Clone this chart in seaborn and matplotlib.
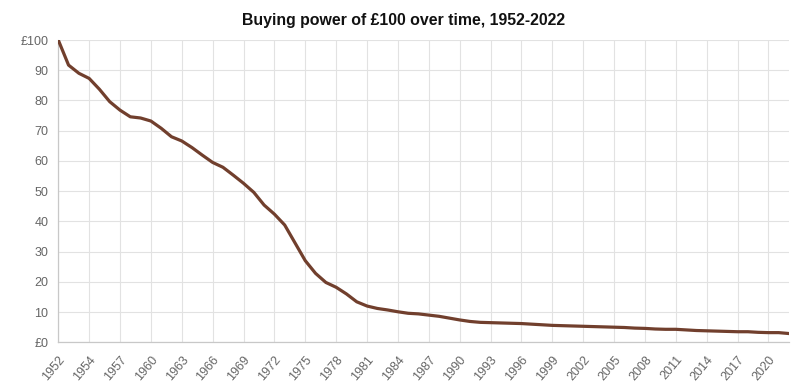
import matplotlib
matplotlib.use('Agg')
import matplotlib.pyplot as plt
import seaborn as sns
import pandas as pd

# x-axis categories (source series has 1952 listed twice)
years = [1952] + list(range(1952, 2023))

# buying power of £100
values = [100.0, 91.7, 89.0, 87.3, 83.7, 79.6, 76.8, 74.6, 74.2, 73.2,
          70.8, 68.0, 66.6, 64.4, 61.9, 59.5, 57.9, 55.3, 52.6, 49.6,
          45.4, 42.4, 38.8, 32.9, 27.0, 22.8, 19.8, 18.2, 16.0, 13.4,
          12.0, 11.2, 10.7, 10.1, 9.6, 9.4, 9.0, 8.6, 8.0, 7.4,
          6.9, 6.6, 6.5, 6.4, 6.3, 6.2, 6.0, 5.8, 5.6, 5.5,
          5.4, 5.3, 5.2, 5.1, 5.0, 4.9, 4.7, 4.6, 4.4, 4.3,
          4.3, 4.1, 3.9, 3.8, 3.7, 3.6, 3.5, 3.5, 3.3, 3.2,
          3.2, 2.9]

y_ticks = list(range(0, 101, 10))
y_labels = ['£0', '10', '20', '30', '40', '50', '60', '70', '80', '90', '£100']

df = pd.DataFrame({'pos': range(len(years)), 'year': years, 'value': values})

sns.set_style('white')
plt.rcParams['font.family'] = ['Liberation Sans', 'DejaVu Sans']

fig, ax = plt.subplots(figsize=(8.07, 3.9), dpi=100)
fig.subplots_adjust(left=0.0722, right=0.9777, top=0.8974, bottom=0.1223)

sns.lineplot(data=df, x='pos', y='value', ax=ax, color='#713f2d',
             linewidth=2.3, zorder=3)

tick_pos = list(range(0, len(years), 3))
ax.set_xticks(tick_pos)
ax.set_xticklabels([str(years[p]) for p in tick_pos], rotation=50,
                   ha='right', rotation_mode='anchor')
ax.set_yticks(y_ticks)
ax.set_yticklabels(y_labels)
ax.set_xlim(0, len(years) - 1)
ax.set_ylim(0, 100)

ax.grid(True, color='#e2e2e2', linewidth=0.8)
ax.set_axisbelow(True)
for side in ['top', 'right']:
    ax.spines[side].set_visible(False)
for side in ['left', 'bottom']:
    ax.spines[side].set_color('#c8c8c8')
    ax.spines[side].set_linewidth(0.9)

ax.tick_params(axis='both', which='major', length=5, width=0.8,
               color='#e2e2e2', labelcolor='#666666', labelsize=9, pad=2)
ax.tick_params(axis='x', pad=3)
ax.set_xlabel('')
ax.set_ylabel('')

fig.suptitle('Buying power of £100 over time, 1952-2022', x=0.5, y=0.967,
             fontsize=11.4, fontweight='bold', color='#111111')

fig.savefig('out.png', dpi=100)
